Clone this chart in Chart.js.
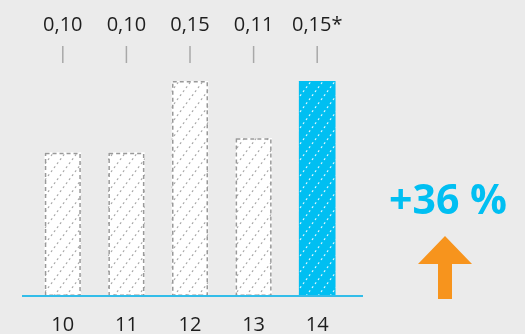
<!DOCTYPE html>
<html>
<head>
<meta charset="utf-8">
<script src="https://cdn.jsdelivr.net/npm/chart.js@4"></script>
<style>
  html, body { margin: 0; padding: 0; background: #ebebeb; }
  #wrap { width: 525px; height: 334px; position: relative; }
</style>
</head>
<body>
<div id="wrap"><canvas id="growthChart"></canvas></div>
<script>
'use strict';

// Data
const categories  = ['10', '11', '12', '13', '14'];
const values      = [0.10, 0.10, 0.15, 0.11, 0.15];
const valueLabels = ['0,10', '0,10', '0,15', '0,11', '0,15*'];
const changeLabel = '+36 %';

// Palette
const colorBg      = '#ebebeb';
const colorText    = '#1e1e1e';
const colorCyan    = '#00bff2';
const colorOrange  = '#f7941d';
const colorDash    = '#999999';
const colorHatch   = '#a4a4a4';
const fontFamily   = '"Open Sans", "Noto Sans", sans-serif';

// Diagonal dashed hatch as a repeating canvas pattern
function makeHatch(fill, stroke) {
    const w = 12, h = 16;
    const c = document.createElement('canvas');
    c.width = w; c.height = h;
    const g = c.getContext('2d');
    g.fillStyle = fill;
    g.fillRect(0, 0, w, h);
    g.strokeStyle = stroke;
    g.lineWidth = 1.1;
    g.setLineDash([2, 3]);
    [-w, 0, w].forEach(function (dx) {
        g.beginPath();
        g.moveTo(dx - w, 2 * h);
        g.lineTo(dx + 2 * w, -h);
        g.stroke();
    });
    return c.getContext('2d').createPattern(c, 'repeat');
}

const ctx = document.getElementById('growthChart');
const hatchPlain = makeHatch('#ffffff', colorHatch);
const hatchCyan  = makeHatch(colorCyan, 'rgba(255,255,255,0.9)');
const lastIdx = values.length - 1;

// Dashed outlines, value labels, baseline and the change badge
const decorPlugin = {
    id: 'decor',
    beforeDraw(chart) {
        const g = chart.ctx;
        g.save();
        g.fillStyle = colorBg;
        g.fillRect(0, 0, chart.width, chart.height);
        g.restore();
    },
    afterDatasetsDraw(chart) {
        const g = chart.ctx;
        const meta = chart.getDatasetMeta(0);
        const area = chart.chartArea;
        g.save();

        meta.data.forEach(function (bar, i) {
            const p = bar.getProps(['x', 'y', 'base', 'width'], true);
            const left = p.x - p.width / 2;
            if (i !== lastIdx) {
                g.strokeStyle = colorDash;
                g.lineWidth = 1.5;
                g.setLineDash([4, 3]);
                g.strokeRect(left + 0.75, p.y + 0.75, p.width - 1.5, p.base - p.y - 1.5);
            }
            g.setLineDash([]);
            // value label + small tick above
            g.fillStyle = colorText;
            g.font = '20px ' + fontFamily;
            g.textAlign = 'center';
            g.textBaseline = 'alphabetic';
            g.fillText(valueLabels[i], p.x, 31);
            g.strokeStyle = '#a8a8a8';
            g.lineWidth = 1.5;
            g.beginPath();
            g.moveTo(p.x, 46);
            g.lineTo(p.x, 63);
            g.stroke();
        });

        // baseline
        g.setLineDash([]);
        g.strokeStyle = '#33bde9';
        g.lineWidth = 2;
        g.beginPath();
        g.moveTo(area.left - 9, area.bottom);
        g.lineTo(area.right + 14, area.bottom);
        g.stroke();

        // change badge
        const cx = 446;
        g.fillStyle = colorCyan;
        g.font = 'bold 41px ' + fontFamily;
        g.textAlign = 'center';
        g.fillText(changeLabel, cx + 2, 214);

        g.fillStyle = colorOrange;
        g.beginPath();
        g.moveTo(cx - 1, 236);
        g.lineTo(cx + 26, 264);
        g.lineTo(cx + 6, 264);
        g.lineTo(cx + 6, 299);
        g.lineTo(cx - 8, 299);
        g.lineTo(cx - 8, 264);
        g.lineTo(cx - 28, 264);
        g.closePath();
        g.fill();
        g.restore();
    }
};

new Chart(ctx, {
    type: 'bar',
    data: {
        labels: categories,
        datasets: [{
            data: values,
            backgroundColor: values.map(function (v, i) { return i === lastIdx ? hatchCyan : hatchPlain; }),
            borderWidth: 0,
            barThickness: 36
        }]
    },
    options: {
        responsive: true,
        maintainAspectRatio: false,
        animation: false,
        layout: { padding: { top: 81, left: 31, right: 176, bottom: 0 } },
        plugins: {
            legend: { display: false },
            tooltip: { enabled: false }
        },
        scales: {
            x: {
                grid: { display: false, drawTicks: false },
                border: { display: false },
                afterFit: function (scale) { scale.height = 38; },
                ticks: {
                    color: colorText,
                    font: { size: 20, family: fontFamily },
                    padding: 17,
                    maxRotation: 0
                }
            },
            y: {
                display: false,
                min: 0,
                max: 0.15
            }
        }
    },
    plugins: [decorPlugin]
});
</script>
</body>
</html>
